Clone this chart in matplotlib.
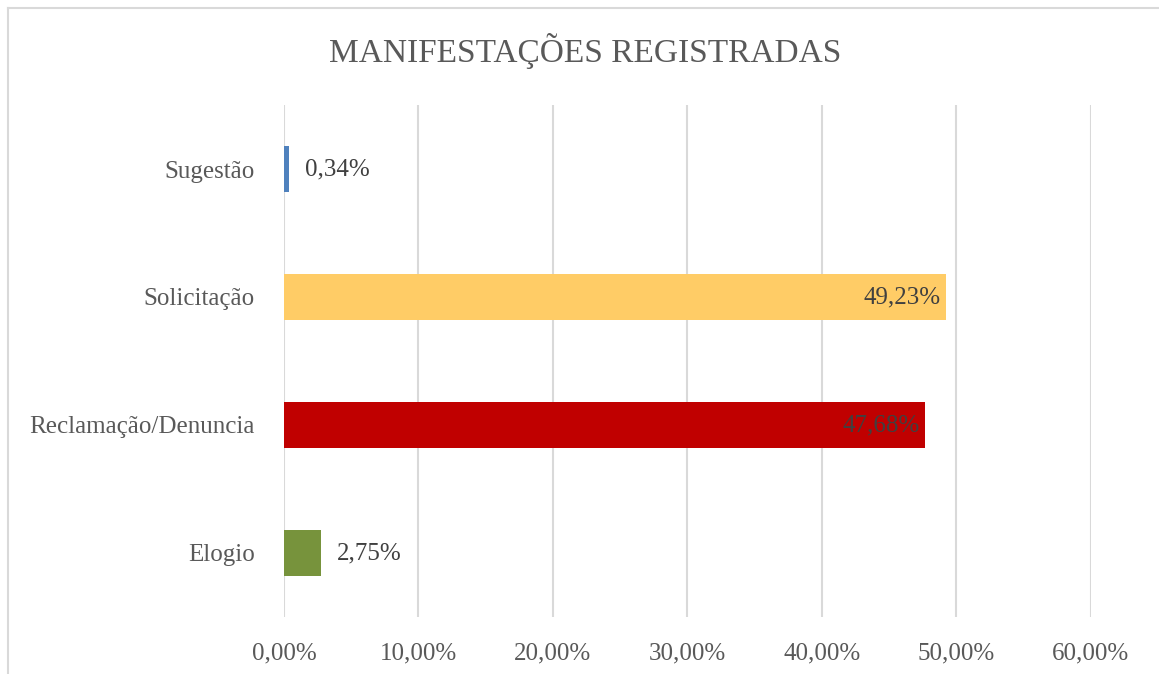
import matplotlib.pyplot as plt
from matplotlib.lines import Line2D

categorias = ["Elogio", "Reclamação/Denuncia", "Solicitação", "Sugestão"]
valores = [2.75, 47.68, 49.23, 0.34]
cores = ["#77933C", "#C00000", "#FFCC66", "#4F81BD"]
ticks = [0, 10, 20, 30, 40, 50, 60]

plt.rcParams['font.family'] = ['Liberation Serif', 'DejaVu Serif']

fig = plt.figure(figsize=(11.59, 6.74), dpi=100)
ax = fig.add_axes([0.245, 0.0846, 0.6963, 0.7596])

y = range(len(categorias))
ax.barh(y, valores, height=0.36, color=cores, zorder=3)

for i, v in enumerate(valores):
    txt = f"{v:.2f}%".replace(".", ",")
    if v > 20:
        ax.text(v - 0.4, i, txt, ha="right", va="center", fontsize=18, color="#404040", zorder=4)
    else:
        ax.text(v + 1.2, i, txt, ha="left", va="center", fontsize=18, color="#404040", zorder=4)

ax.set_xlim(0, 60)
ax.set_ylim(-0.5, 3.5)
ax.set_xticks(ticks)
ax.set_xticklabels([f"{t:.2f}%".replace(".", ",") for t in ticks], fontsize=18, color="#595959")
ax.set_yticks(list(y))
ax.set_yticklabels(categorias, fontsize=18, color="#595959")
ax.tick_params(length=0)
ax.tick_params(axis="x", pad=18)
ax.tick_params(axis="y", pad=21)
ax.grid(axis="x", color="#D9D9D9", linewidth=1.5, zorder=0)
for s in ax.spines.values():
    s.set_visible(False)

fig.text(0.505, 0.925, "MANIFESTAÇÕES REGISTRADAS", ha="center", va="center", fontsize=24, color="#595959")

# moldura do gráfico
fig.add_artist(Line2D([8 / 1159, 8 / 1159], [0, 1 - 8 / 674], color="#D9D9D9", linewidth=1.5))
fig.add_artist(Line2D([8 / 1159, 1], [1 - 8 / 674, 1 - 8 / 674], color="#D9D9D9", linewidth=1.5))

fig.savefig("out.png", dpi=100)
